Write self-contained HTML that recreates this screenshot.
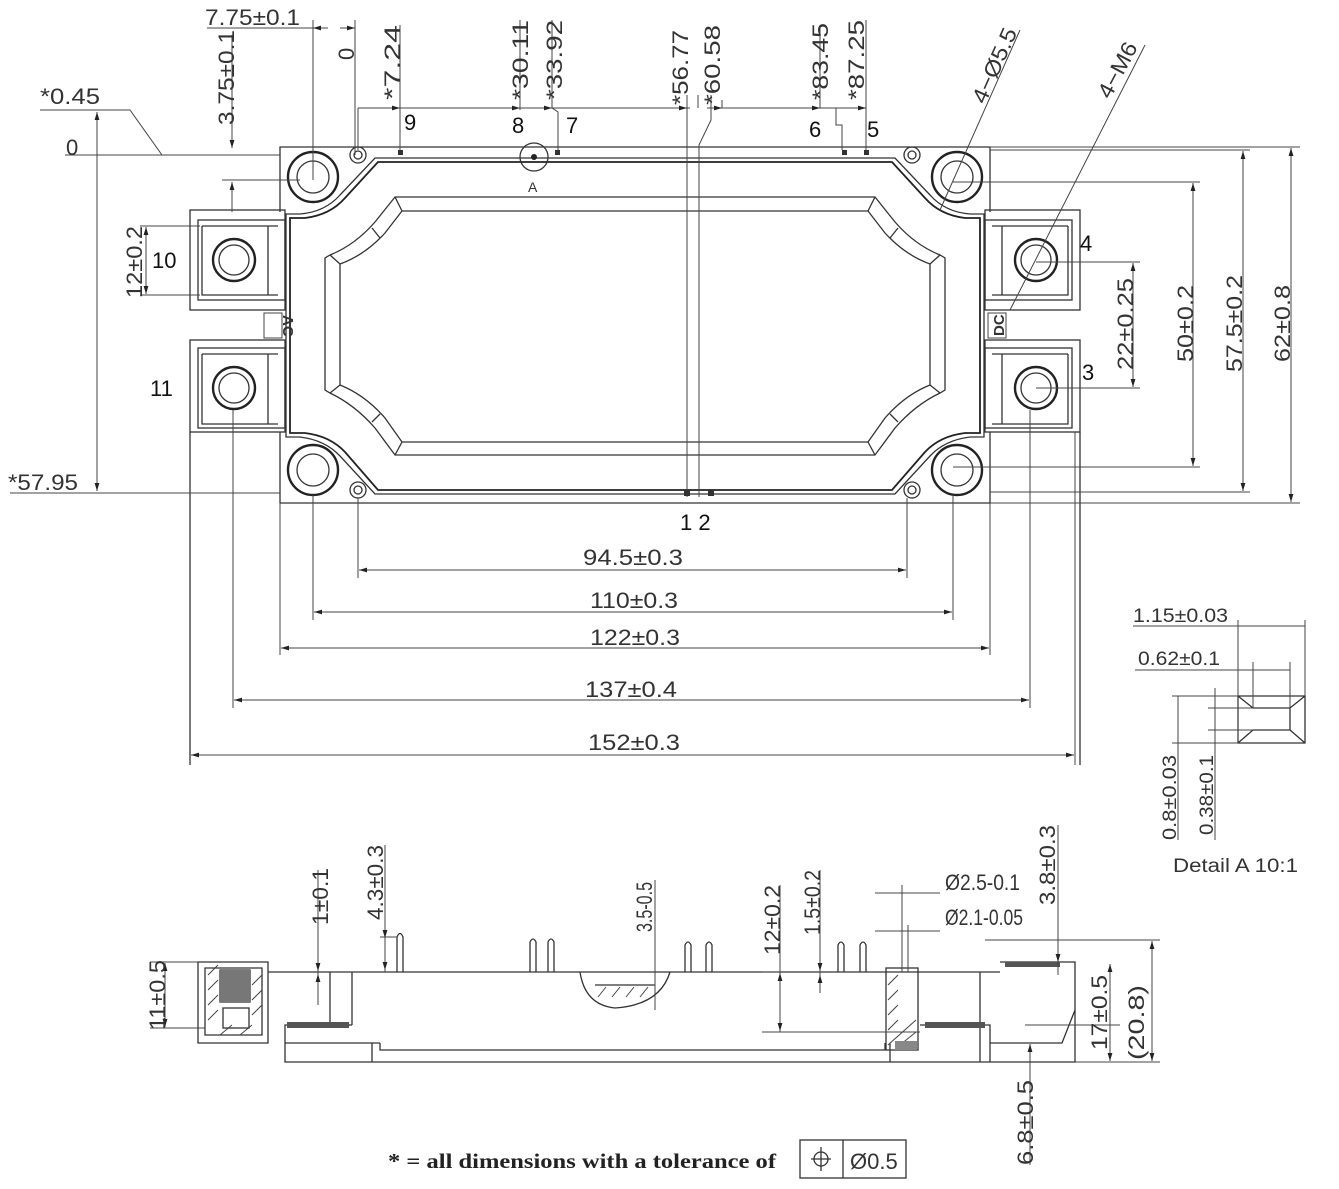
<!DOCTYPE html>
<html><head><meta charset="utf-8"><style>
html,body{margin:0;padding:0;background:#fff}
svg{display:block}
.l{stroke:#333;stroke-width:1.3;fill:none}
.t{stroke:#222;stroke-width:2.4;fill:none}
.d{stroke:#444;stroke-width:1;fill:none}
text{font-family:"Liberation Sans",sans-serif;fill:#333;font-size:22px}
.n{font-size:22px;fill:#111}
</style></head><body>
<svg width="1339" height="1189" viewBox="0 0 1339 1189" xmlns="http://www.w3.org/2000/svg">
<defs>
<marker id="a" viewBox="0 0 10 10" refX="10" refY="5" markerWidth="8" markerHeight="8" orient="auto-start-reverse"><path d="M0,2 L10,5 L0,8z" fill="#222"/></marker>
<g id="half">
 <path class="l" d="M280,212 V147 H352"/>
 <path class="l" d="M280,432 V503"/>
 <circle class="t" cx="313" cy="177" r="25"/><circle class="l" cx="313" cy="177" r="16"/>
 <circle class="t" cx="313" cy="470" r="25"/><circle class="l" cx="313" cy="470" r="16"/>
 <circle class="l" cx="358" cy="155" r="8"/><circle class="l" cx="358" cy="155" r="4"/>
 <circle class="l" cx="358" cy="490" r="8"/><circle class="l" cx="358" cy="490" r="4"/>
 <path class="t" d="M635,162 H378 L345,198 Q330,215 305,218 H290 V433 H305 Q330,436 345,452 L378,490 H635" style="stroke-width:1.8"/>
 <path class="l" d="M635,158 H375 L340,195 Q325,212 300,214 H286 V437 H300 Q325,440 340,456 L375,494 H635"/>
 <path class="l" d="M635,197 H395 L375,222 Q355,245 330,255 L325,258 V390 L330,393 Q355,405 375,428 L395,455 H635"/>
 <path class="l" d="M635,211 H402 L385,233 Q365,255 340,264 V385 Q365,395 385,418 L402,442 H635"/>
 <path class="l" d="M395,197 L402,211 M330,255 L340,264 M330,393 L340,385 M395,455 L402,442 M372,228 L380,238 M372,422 L380,414"/>
 <rect class="l" x="190" y="210" width="95" height="100"/>
 <rect class="l" x="198" y="220" width="87" height="80"/>
 <path class="l" d="M202,226 V295 H278 M202,226 H278 M268,226 V295"/>
 <circle class="t" cx="234" cy="260" r="21"/><circle class="l" cx="234" cy="260" r="15"/>
 <rect class="l" x="190" y="340" width="95" height="92"/>
 <rect class="l" x="198" y="348" width="87" height="80"/>
 <path class="l" d="M202,354 V424 H278 M202,354 H278 M268,354 V424"/>
 <circle class="t" cx="234" cy="388" r="21"/><circle class="l" cx="234" cy="388" r="15"/>
 <rect x="264" y="313" width="18" height="25" fill="#fff" class="d"/>
 <path class="l" d="M190,432 V765"/>
</g>
</defs>

<path class="l" d="M352,147 H918"/>
<path class="l" d="M280,503 H990"/>
<use href="#half"/>
<use href="#half" transform="matrix(-1,0,0,1,1270,0)"/>
<text transform="translate(283,315) rotate(90)" style="font-size:15px;font-weight:bold">AC</text>
<text transform="translate(1004,336) rotate(-90)" style="font-size:15px;font-weight:bold">DC</text>
<path class="d" d="M687,95 V497 M711,95 V120 L699,145 V497"/>
<rect x="684" y="490" width="6" height="6" fill="#333"/><rect x="708" y="490" width="6" height="6" fill="#333"/>
<text class="n" x="680" y="530">1 2</text>
<circle class="l" cx="534" cy="157" r="14"/><circle cx="534" cy="157" r="3" fill="#222"/>
<rect x="555" y="150" width="5" height="5" fill="#333"/><rect x="398" y="150" width="5" height="5" fill="#333"/>
<rect x="842" y="150" width="5" height="5" fill="#333"/><rect x="864" y="150" width="5" height="5" fill="#333"/>
<text x="528" y="192" style="font-size:14px">A</text>
<path class="d" d="M358,108 H690 M358,108 V150 M400,25 V150 M520,20 V110 M552,20 V108 L558,112 V150 M698,95 V108 M820,25 V108 L836,108 V125 L842,125 V150 M866,20 V150 M722,100 V108 H866"/>
<path class="d" d="M207,28 H328 M313,20 V180 M355,20 V155"/>
<path class="d" d="M328,28 L313,28" marker-end="url(#a)"/><path class="d" d="M340,28 L355,28" marker-end="url(#a)"/>
<path class="d" d="M232,35 V148 M232,200 V212 M222,180 H300"/>
<path class="d" d="M232,130 V148" marker-end="url(#a)"/><path class="d" d="M232,200 V182" marker-end="url(#a)"/>
<path class="d" d="M385,108 L400,108" marker-end="url(#a)"/>
<path class="d" d="M505,108 L520,108" marker-end="url(#a)"/><path class="d" d="M537,108 L552,108" marker-end="url(#a)"/>
<path class="d" d="M672,108 L687,108" marker-end="url(#a)"/><path class="d" d="M707,108 L722,108" marker-end="url(#a)"/>
<path class="d" d="M805,108 L820,108" marker-end="url(#a)"/><path class="d" d="M851,108 L866,108" marker-end="url(#a)"/>
<text x="205" y="25" textLength="95" lengthAdjust="spacingAndGlyphs">7.75±0.1</text>
<text transform="translate(234,125) rotate(-90)" textLength="95" lengthAdjust="spacingAndGlyphs">3.75±0.1</text>
<text transform="translate(354,60) rotate(-90)">0</text>
<text transform="translate(400,100) rotate(-90)" textLength="75" lengthAdjust="spacingAndGlyphs">*7.24</text>
<text transform="translate(528,100) rotate(-90)" textLength="80" lengthAdjust="spacingAndGlyphs">*30.11</text>
<text transform="translate(562,100) rotate(-90)" textLength="80" lengthAdjust="spacingAndGlyphs">*33.92</text>
<text transform="translate(688,105) rotate(-90)" textLength="75" lengthAdjust="spacingAndGlyphs">*56.77</text>
<text transform="translate(720,105) rotate(-90)" textLength="80" lengthAdjust="spacingAndGlyphs">*60.58</text>
<text transform="translate(828,100) rotate(-90)" textLength="77" lengthAdjust="spacingAndGlyphs">*83.45</text>
<text transform="translate(864,100) rotate(-90)" textLength="80" lengthAdjust="spacingAndGlyphs">*87.25</text>
<text class="n" x="404" y="130">9</text><text class="n" x="512" y="133">8</text><text class="n" x="566" y="133">7</text>
<text class="n" x="809" y="137">6</text><text class="n" x="867" y="137">5</text>
<path class="d" d="M1020,30 L940,210 M1145,45 L1010,310"/>
<text transform="translate(985,105) rotate(-66)" textLength="80" lengthAdjust="spacingAndGlyphs">4−Ø5.5</text>
<text transform="translate(1110,100) rotate(-62)" textLength="60" lengthAdjust="spacingAndGlyphs">4−M6</text>
<path class="d" d="M40,110 H130 L162,155 H280 M65,155 H162 M10,493 H280"/>
<path class="d" d="M97,300 V112" marker-end="url(#a)"/><path class="d" d="M97,300 V491" marker-end="url(#a)"/>
<text x="40" y="104" textLength="60" lengthAdjust="spacingAndGlyphs">*0.45</text>
<text x="66" y="155">0</text>
<text x="8" y="490" textLength="70" lengthAdjust="spacingAndGlyphs">*57.95</text>
<path class="d" d="M140,226 H200 M140,295 H200"/>
<path class="d" d="M146,260 V227" marker-end="url(#a)"/><path class="d" d="M146,260 V294" marker-end="url(#a)"/>
<text transform="translate(142,298) rotate(-90)" textLength="72" lengthAdjust="spacingAndGlyphs">12±0.2</text>
<text class="n" x="152" y="268">10</text><text class="n" x="150" y="396">11</text>
<text class="n" x="1080" y="251">4</text><text class="n" x="1082" y="380">3</text>
<path class="d" d="M1036,262 H1140 M1036,388 H1140 M953,182 H1200 M953,467 H1200 M990,150 H1250 M990,492 H1250 M990,147 H1300 M990,503 H1300"/>
<path class="d" d="M1133,325 V263" marker-end="url(#a)"/><path class="d" d="M1133,325 V387" marker-end="url(#a)"/>
<path class="d" d="M1193,325 V183" marker-end="url(#a)"/><path class="d" d="M1193,325 V466" marker-end="url(#a)"/>
<path class="d" d="M1243,325 V151" marker-end="url(#a)"/><path class="d" d="M1243,325 V491" marker-end="url(#a)"/>
<path class="d" d="M1291,325 V148" marker-end="url(#a)"/><path class="d" d="M1291,325 V502" marker-end="url(#a)"/>
<text transform="translate(1133,370) rotate(-90)" textLength="92" lengthAdjust="spacingAndGlyphs">22±0.25</text>
<text transform="translate(1193,362) rotate(-90)" textLength="77" lengthAdjust="spacingAndGlyphs">50±0.2</text>
<text transform="translate(1242,372) rotate(-90)" textLength="97" lengthAdjust="spacingAndGlyphs">57.5±0.2</text>
<text transform="translate(1290,362) rotate(-90)" textLength="77" lengthAdjust="spacingAndGlyphs">62±0.8</text>
<path class="d" d="M358,498 V578 M907,498 V578 M313,495 V620 M953,495 V620 M280,503 V655 M990,503 V655 M233,410 V708 M1030,410 V708 M1075,432 V765"/>
<path class="d" d="M632,570 H359" marker-end="url(#a)"/><path class="d" d="M632,570 H906" marker-end="url(#a)"/>
<path class="d" d="M632,612 H314" marker-end="url(#a)"/><path class="d" d="M632,612 H952" marker-end="url(#a)"/>
<path class="d" d="M632,648 H281" marker-end="url(#a)"/><path class="d" d="M632,648 H989" marker-end="url(#a)"/>
<path class="d" d="M632,700 H234" marker-end="url(#a)"/><path class="d" d="M632,700 H1029" marker-end="url(#a)"/>
<path class="d" d="M632,755 H191" marker-end="url(#a)"/><path class="d" d="M632,755 H1074" marker-end="url(#a)"/>
<text x="583" y="565" textLength="100" lengthAdjust="spacingAndGlyphs">94.5±0.3</text>
<text x="590" y="608" textLength="88" lengthAdjust="spacingAndGlyphs">110±0.3</text>
<text x="590" y="645" textLength="90" lengthAdjust="spacingAndGlyphs">122±0.3</text>
<text x="585" y="697" textLength="92" lengthAdjust="spacingAndGlyphs">137±0.4</text>
<text x="588" y="750" textLength="92" lengthAdjust="spacingAndGlyphs">152±0.3</text>

<path class="l" d="M1238,696 H1305 V743 H1238 Z M1253,708 H1290 V730 H1253 M1238,696 L1253,708 M1305,696 L1290,708 M1238,743 L1253,730 M1305,743 L1290,730"/>
<path class="d" d="M1133,626 H1305 M1135,670 H1290 M1238,620 V743 M1305,620 V696 M1253,662 V708 M1290,662 V708 M1172,696 H1238 M1172,743 H1238 M1208,708 H1253 M1208,730 H1253 M1178,696 V840 M1215,688 V840"/>
<text x="1133" y="622" textLength="95" lengthAdjust="spacingAndGlyphs" style="font-size:19px">1.15±0.03</text>
<text x="1138" y="665" textLength="82" lengthAdjust="spacingAndGlyphs" style="font-size:19px">0.62±0.1</text>
<text transform="translate(1176,840) rotate(-90)" textLength="85" lengthAdjust="spacingAndGlyphs" style="font-size:19px">0.8±0.03</text>
<text transform="translate(1213,835) rotate(-90)" textLength="80" lengthAdjust="spacingAndGlyphs" style="font-size:19px">0.38±0.1</text>
<text x="1173" y="872" textLength="125" lengthAdjust="spacingAndGlyphs" style="font-size:19px">Detail A 10:1</text>

<!-- Side view -->
<path class="l" d="M285,1043 V1062 H1075 V1010 M285,1043 V1025 H352 M285,972 H1000 M1000,962 H1075 V1010 L1062,1043 H990 V1025 H920"/>
<path class="l" d="M380,1043 V1050 H885 V1043 M380,1043 H285"/>
<path class="l" d="M330,972 V1025 M352,972 V1025 M980,972 V1062 M372,1043 V1062 M890,1043 V1062 M990,1043 V1062"/>
<path class="l" d="M198,962 H268 V1043 H198 Z M205,968 H262 V1035 H205 Z M220,970 H250 V1002 H220 Z"/>
<path d="M220,970 H250 V1002 H220 Z" fill="#777"/>
<path class="d" d="M208,975 L218,965 M208,990 L218,980 M208,1005 L218,995 M208,1020 L218,1010 M252,985 L262,975 M252,1000 L262,990 M252,1015 L262,1005 M220,1035 L232,1025 M240,1035 L252,1025"/>
<rect class="l" x="223" y="1008" width="26" height="20"/>
<path class="l" d="M268,972 H285 M287,1025 H350"/>
<rect x="287" y="1022" width="62" height="6" fill="#555"/>
<path class="l" d="M580,972 Q585,1005 615,1008 Q660,1005 670,972 M595,985 H655"/>
<path class="d" d="M598,997 L606,987 M612,997 L620,987 M626,997 L634,987 M640,997 L648,987"/>
<g class="l">
<path d="M397,972 V937 Q400,930 403,937 V972"/>
<path d="M530,972 V942 Q533,936 536,942 V972 M548,972 V942 Q551,936 554,942 V972"/>
<path d="M685,972 V945 Q688,939 691,945 V972 M706,972 V945 Q709,939 712,945 V972"/>
<path d="M838,972 V945 Q841,939 844,945 V972 M860,972 V945 Q863,939 866,945 V972"/>
</g>
<rect class="l" x="886" y="968" width="32" height="82"/>
<path class="d" d="M888,985 L898,975 M888,1000 L898,990 M888,1015 L898,1005 M888,1030 L898,1020 M888,1045 L916,1020 M900,1045 L916,1032"/>
<rect x="895" y="1041" width="22" height="9" fill="#888"/>
<rect x="925" y="1022" width="60" height="6" fill="#555"/>
<rect x="1005" y="962" width="55" height="5" fill="#555"/>
<path class="d" d="M318,870 V1005 M385,845 V972 M380,937 H397 M655,880 V1010 M762,972 H780 M762,1032 H920 M780,885 V1032 M820,870 V993 M875,893 H940 M875,931 H940 M902,885 V972 M908,925 V972 M1058,825 V975 M985,940 H1160 M1025,1025 H1120 M1075,1062 H1160 M150,962 H198 M150,1028 H205"/>
<path class="d" d="M318,950 V971" marker-end="url(#a)"/><path class="d" d="M318,995 V974" marker-end="url(#a)"/>
<path class="d" d="M385,930 V938" marker-end="url(#a)"/><path class="d" d="M385,960 V970" marker-end="url(#a)"/>
<path class="d" d="M780,1000 V1031" marker-end="url(#a)"/><path class="d" d="M780,1000 V973" marker-end="url(#a)"/>
<path class="d" d="M820,950 V971" marker-end="url(#a)"/><path class="d" d="M820,993 V975" marker-end="url(#a)"/>
<path class="d" d="M1058,940 V962" marker-end="url(#a)"/>
<path class="d" d="M1110,1000 V964" marker-end="url(#a)"/><path class="d" d="M1110,1000 V1061" marker-end="url(#a)"/>
<path class="d" d="M1152,1000 V941" marker-end="url(#a)"/><path class="d" d="M1152,1000 V1061" marker-end="url(#a)"/>
<path class="d" d="M1030,1080 V1044" marker-end="url(#a)"/><path class="d" d="M1030,1080 V1165"/>
<path class="d" d="M165,995 V963" marker-end="url(#a)"/><path class="d" d="M165,995 V1027" marker-end="url(#a)"/>
<text transform="translate(165,1030) rotate(-90)" textLength="70" lengthAdjust="spacingAndGlyphs">11±0.5</text>
<text transform="translate(328,925) rotate(-90)" textLength="57" lengthAdjust="spacingAndGlyphs">1±0.1</text>
<text transform="translate(383,920) rotate(-90)" textLength="75" lengthAdjust="spacingAndGlyphs">4.3±0.3</text>
<text transform="translate(652,932) rotate(-90)" textLength="50" lengthAdjust="spacingAndGlyphs">3.5-0.5</text>
<text transform="translate(780,955) rotate(-90)" textLength="70" lengthAdjust="spacingAndGlyphs">12±0.2</text>
<text transform="translate(820,935) rotate(-90)" textLength="65" lengthAdjust="spacingAndGlyphs">1.5±0.2</text>
<text x="945" y="890" textLength="75" lengthAdjust="spacingAndGlyphs">Ø2.5-0.1</text>
<text x="945" y="925" textLength="78" lengthAdjust="spacingAndGlyphs">Ø2.1-0.05</text>
<text transform="translate(1055,905) rotate(-90)" textLength="80" lengthAdjust="spacingAndGlyphs">3.8±0.3</text>
<text transform="translate(1107,1050) rotate(-90)" textLength="75" lengthAdjust="spacingAndGlyphs">17±0.5</text>
<text transform="translate(1144,1060) rotate(-90)" textLength="75" lengthAdjust="spacingAndGlyphs">(20.8)</text>
<text transform="translate(1033,1165) rotate(-90)" textLength="85" lengthAdjust="spacingAndGlyphs">6.8±0.5</text>

<text x="388" y="1168" textLength="388" lengthAdjust="spacingAndGlyphs" style="font-family:'Liberation Serif',serif;font-weight:bold;font-size:21px;fill:#222">* = all dimensions with a tolerance of</text>
<rect class="l" x="800" y="1140" width="106" height="38"/>
<path class="l" d="M843,1140 V1178"/>
<circle class="l" cx="821" cy="1159" r="7"/><path class="l" d="M811,1159 H831 M821,1147 V1171"/>
<text x="850" y="1169" style="font-size:22px">Ø0.5</text>
</svg>
</body></html>
